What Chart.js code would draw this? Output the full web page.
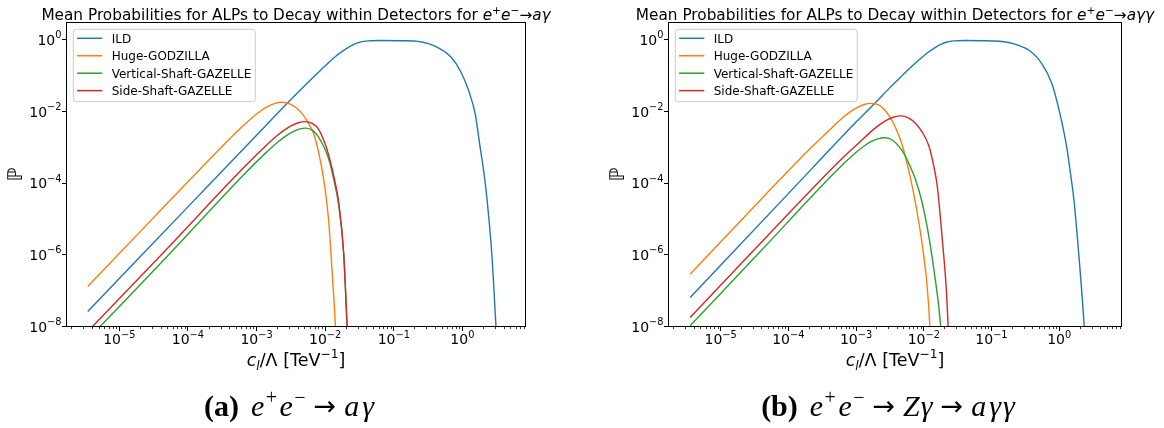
<!DOCTYPE html>
<html>
<head>
<meta charset="utf-8">
<script src="https://cdn.jsdelivr.net/npm/chart.js"></script>
<style>
  html, body { margin: 0; padding: 0; background: #ffffff; }
  #wrap { position: relative; width: 1164px; height: 428px; overflow: hidden; background: #ffffff; }
  canvas { position: absolute; top: 0; }
</style>
</head>
<body>
<div id="wrap">
  <canvas id="panelA" width="582" height="428" style="left:0px"></canvas>
  <canvas id="panelB" width="582" height="428" style="left:582px"></canvas>
</div>
<script>
// ---- data: x = c_l/Λ [TeV^-1], y = mean decay probability ----
// (a) e+e- -> a γ
const ildAX = [3.467e-6, 1.0e-4, 1.0e-3, 2.754e-3, 5.370e-3, 8.511e-3, 1.072e-2, 1.413e-2, 1.862e-2, 2.455e-2, 3.236e-2, 4.266e-2, 6.310e-2, 0.1259, 0.2455, 0.3846, 0.6761, 0.9441, 1.247, 1.549, 1.778, 2.042, 2.291, 2.692, 3.090, 3.311];
const ildAY = [2.630e-8, 2.188e-5, 2.188e-3, 1.660e-2, 6.026e-2, 0.1413, 0.2138, 0.3467, 0.5129, 0.7079, 0.8710, 0.9441, 0.9661, 0.9550, 0.8913, 0.6918, 0.3388, 0.1318, 3.631e-2, 8.128e-3, 1.318e-3, 2.239e-4, 3.467e-5, 1.0e-6, 1.0e-8, 1.0e-9];
const godzAX = [3.467e-6, 3.162e-5, 2.951e-4, 5.888e-4, 9.333e-4, 1.175e-3, 1.479e-3, 1.862e-3, 2.344e-3, 3.162e-3, 4.365e-3, 5.370e-3, 6.761e-3, 7.943e-3, 9.550e-3, 1.122e-2, 1.259e-2, 1.413e-2, 1.479e-2];
const godzAY = [1.318e-7, 1.096e-5, 9.333e-4, 3.467e-3, 7.674e-3, 1.072e-2, 1.413e-2, 1.698e-2, 1.820e-2, 1.585e-2, 1.0e-2, 5.754e-3, 2.512e-3, 7.943e-4, 1.230e-4, 9.550e-6, 3.802e-7, 1.0e-8, 1.0e-9];
const vertAX = [5.248e-6, 5.012e-5, 6.607e-4, 1.318e-3, 2.089e-3, 2.630e-3, 3.311e-3, 4.169e-3, 5.248e-3, 6.607e-3, 7.943e-3, 1.0e-2, 1.175e-2, 1.380e-2, 1.585e-2, 1.862e-2, 2.089e-2, 2.188e-2];
const vertAY = [1.0e-8, 9.120e-7, 1.778e-4, 6.607e-4, 1.462e-3, 2.042e-3, 2.692e-3, 3.236e-3, 3.467e-3, 2.951e-3, 1.995e-3, 8.710e-4, 3.631e-4, 9.550e-5, 2.239e-5, 1.122e-6, 1.0e-8, 1.0e-9];
const sideAX = [4.074e-6, 5.012e-5, 6.457e-4, 1.288e-3, 2.042e-3, 2.570e-3, 3.236e-3, 4.074e-3, 5.129e-3, 6.457e-3, 7.943e-3, 1.0e-2, 1.175e-2, 1.380e-2, 1.585e-2, 1.862e-2, 2.089e-2, 2.188e-2];
const sideAY = [1.0e-8, 1.514e-6, 2.692e-4, 1.0e-3, 2.213e-3, 3.090e-3, 4.074e-3, 4.898e-3, 5.248e-3, 4.677e-3, 3.311e-3, 1.259e-3, 4.467e-4, 1.175e-4, 2.754e-5, 1.122e-6, 1.0e-8, 1.0e-9];

// (b) e+e- -> Z γ -> a γ γ
const ildBX = [3.548e-6, 1.0e-4, 1.0e-3, 1.972e-3, 3.162e-3, 4.416e-3, 6.998e-3, 8.810e-3, 1.109e-2, 1.396e-2, 1.758e-2, 2.213e-2, 2.786e-2, 3.981e-2, 7.244e-2, 0.1778, 0.2512, 0.3548, 0.5495, 0.7762, 1.023, 1.288, 1.462, 1.648, 1.950, 2.344, 2.512];
const ildBY = [6.457e-8, 5.129e-5, 5.129e-3, 1.862e-2, 4.677e-2, 8.710e-2, 0.1995, 0.2951, 0.4266, 0.5754, 0.7413, 0.8810, 0.9441, 0.9661, 0.9550, 0.8511, 0.7079, 0.5248, 0.2239, 6.166e-2, 8.913e-3, 1.047e-3, 1.995e-4, 3.467e-5, 1.0e-6, 1.0e-8, 1.0e-9];
const godzBX = [3.548e-6, 3.162e-5, 2.089e-4, 4.169e-4, 6.607e-4, 8.318e-4, 1.047e-3, 1.318e-3, 1.660e-3, 2.188e-3, 3.090e-3, 3.890e-3, 4.898e-3, 5.754e-3, 6.761e-3, 9.120e-3, 1.122e-2, 1.230e-2, 1.288e-2];
const godzBY = [2.884e-7, 2.291e-5, 9.120e-4, 3.236e-3, 7.161e-3, 1.0e-2, 1.318e-2, 1.585e-2, 1.698e-2, 1.514e-2, 7.586e-3, 3.311e-3, 1.047e-3, 3.162e-4, 8.128e-5, 3.236e-6, 1.318e-7, 1.0e-8, 1.0e-9];
const vertBX = [3.548e-6, 3.981e-5, 3.311e-4, 6.607e-4, 1.047e-3, 1.318e-3, 1.660e-3, 2.089e-3, 2.630e-3, 3.467e-3, 4.898e-3, 6.026e-3, 7.586e-3, 9.120e-3, 1.072e-2, 1.230e-2, 1.413e-2, 1.778e-2, 1.905e-2];
const vertBY = [1.047e-8, 1.318e-6, 9.550e-5, 3.548e-4, 7.852e-4, 1.096e-3, 1.445e-3, 1.738e-3, 1.862e-3, 1.585e-3, 7.586e-4, 3.548e-4, 1.230e-4, 3.802e-5, 9.550e-6, 2.239e-6, 3.802e-7, 1.0e-8, 1.0e-9];
const sideBX = [3.548e-6, 5.012e-5, 5.754e-4, 1.148e-3, 1.820e-3, 2.291e-3, 2.884e-3, 3.631e-3, 4.571e-3, 6.026e-3, 7.586e-3, 9.550e-3, 1.202e-2, 1.380e-2, 1.585e-2, 1.862e-2, 2.138e-2, 2.291e-2, 2.399e-2];
const sideBY = [1.778e-8, 3.548e-6, 4.266e-4, 1.445e-3, 3.199e-3, 4.467e-3, 5.888e-3, 7.079e-3, 7.586e-3, 6.607e-3, 4.677e-3, 2.630e-3, 1.047e-3, 3.548e-4, 8.128e-5, 3.236e-6, 1.318e-7, 1.0e-8, 1.0e-9];

const seriesNames = ['ILD', 'Huge-GODZILLA', 'Vertical-Shaft-GAZELLE', 'Side-Shaft-GAZELLE'];
const seriesColors = ['#1f77b4', '#ff7f0e', '#2ca02c', '#d62728'];
const xMajorTicks = [1e-5, 1e-4, 1e-3, 1e-2, 1e-1, 1];
const yMajorTicks = [1e-8, 1e-6, 1e-4, 1e-2, 1];
const xRange = [1.70e-6, 8.32];
const yRange = [1e-8, 3.08];

// ---- text helpers ----
const SANS = '"DejaVu Sans", sans-serif';
const SERIF = '"Liberation Serif", "Times New Roman", serif';

function fontOf(r) {
  return (r.italic ? 'italic ' : '') + (r.bold ? 'bold ' : '') + r.size + 'px ' + (r.family || SANS);
}
function runsWidth(ctx, runs) {
  let w = 0;
  for (const r of runs) {
    ctx.font = fontOf(r);
    w += (r.pre || 0) + ctx.measureText(r.t).width + (r.gap || 0);
  }
  return w;
}
function drawRuns(ctx, runs, x, y, align) {
  const w = runsWidth(ctx, runs);
  let cx = align === 'center' ? x - w / 2 : (align === 'right' ? x - w : x);
  ctx.textAlign = 'left';
  ctx.textBaseline = 'alphabetic';
  for (const r of runs) {
    ctx.font = fontOf(r);
    cx += r.pre || 0;
    ctx.fillText(r.t, cx, y - (r.rise || 0));
    cx += ctx.measureText(r.t).width + (r.gap || 0);
  }
}
function powRuns(v) {
  const e = Math.round(Math.log10(v));
  return [
    { t: '10', size: 14 },
    { t: e < 0 ? '\u2212' + (-e) : String(e), size: 9.8, rise: 6.8 }
  ];
}
function titleRuns(tail) {
  return [
    { t: 'Mean Probabilities for ALPs to Decay within Detectors for ', size: 15.3 },
    { t: 'e', italic: true, size: 15.3 },
    { t: '+', size: 10.7, rise: 6 },
    { t: 'e', italic: true, size: 15.3 },
    { t: '\u2212', size: 10.7, rise: 6 },
    { t: '\u2192', size: 15.3 },
    { t: tail, italic: true, size: 15.3 }
  ];
}
const xLabelRuns = [
  { t: 'c', italic: true, size: 17.5 },
  { t: 'l', italic: true, size: 12.25, rise: -3.7 },
  { t: '/\u039b [TeV', size: 17.5 },
  { t: '\u22121', size: 12.25, rise: 7.7 },
  { t: ']', size: 17.5 }
];
// caption pieces
const ARROW = { t: '\u2192', size: 27, pre: 8, gap: 8, rise: 1 };
function capItalic(t, gap) { return { t: t, italic: true, size: 30, family: SERIF, gap: gap || 0 }; }
function mathHead(label) {
  return [
    { t: label, bold: true, size: 30, family: SERIF, gap: 12 },
    capItalic('e', 1.5),
    { t: '+', size: 20, family: SERIF, rise: 11.5, gap: 2.5 },
    capItalic('e', 1.5),
    { t: '\u2212', size: 20, family: SERIF, rise: 11.5 },
    ARROW
  ];
}
const captionA = mathHead('(a)').concat([capItalic('a', 3), capItalic('\u03b3')]);
const captionB = mathHead('(b)').concat([
  capItalic('Z', 1), capItalic('\u03b3'), ARROW,
  capItalic('a', 3), capItalic('\u03b3', 2), capItalic('\u03b3')
]);

// frame, minor ticks, tick labels, titles, legend and caption
function panelDecor(cfg) {
  return {
    id: 'panelDecor',
    afterDraw(chart) {
      const ctx = chart.ctx, a = chart.chartArea;
      const xs = chart.scales.x, ys = chart.scales.y;
      ctx.save();
      // axes frame
      ctx.strokeStyle = '#000';
      ctx.lineWidth = 1;
      ctx.strokeRect(a.left, a.top, a.right - a.left, a.bottom - a.top);
      // minor ticks on the log x axis
      ctx.lineWidth = 0.8;
      ctx.beginPath();
      for (let e = -7; e <= 1; e++) {
        for (let k = 2; k <= 9; k++) {
          const v = k * Math.pow(10, e);
          if (v < xs.min || v > xs.max) continue;
          const px = Math.round(xs.getPixelForValue(v)) + 0.5;
          ctx.moveTo(px, a.bottom);
          ctx.lineTo(px, a.bottom + 2.6);
        }
      }
      ctx.stroke();
      // tick labels
      ctx.fillStyle = '#000';
      xs.ticks.forEach(t => {
        drawRuns(ctx, powRuns(t.value), xs.getPixelForValue(t.value), a.bottom + 17.8, 'center');
      });
      ys.ticks.forEach(t => {
        drawRuns(ctx, powRuns(t.value), a.left - 5, ys.getPixelForValue(t.value) + 5.2, 'right');
      });
      // title and axis labels
      const cx = (a.left + a.right) / 2;
      drawRuns(ctx, cfg.title, cx, 19.5, 'center');
      drawRuns(ctx, xLabelRuns, cx, 366, 'center');
      ctx.save();
      ctx.translate(a.left - 51.5, (a.top + a.bottom) / 2);
      ctx.rotate(-Math.PI / 2);
      drawRuns(ctx, [{ t: '\u2119', size: 20 }], 0, 7.3, 'center');
      ctx.restore();
      // legend
      const lx = a.left + 6.8, ly = 29.3, lw = 182, lh = 72.4;
      ctx.beginPath();
      ctx.roundRect(lx, ly, lw, lh, 3);
      ctx.fillStyle = 'rgba(255,255,255,0.8)';
      ctx.fill();
      ctx.strokeStyle = '#cccccc';
      ctx.lineWidth = 1;
      ctx.stroke();
      chart.data.datasets.forEach((ds, i) => {
        const cy = ly + 9 + i * 17.45;
        ctx.beginPath();
        ctx.strokeStyle = ds.borderColor;
        ctx.lineWidth = 1.5;
        ctx.moveTo(lx + 3.8, cy);
        ctx.lineTo(lx + 29, cy);
        ctx.stroke();
        ctx.fillStyle = '#000';
        drawRuns(ctx, [{ t: ds.label, size: 12 }], lx + 38.4, cy + 4.3, 'left');
      });
      // sub-figure caption
      ctx.fillStyle = '#000';
      drawRuns(ctx, cfg.caption, cx - 7, 415.5, 'center');
      ctx.restore();
    }
  };
}

function pairs(xv, yv) { return xv.map((x, i) => ({ x: x, y: yv[i] })); }

function makePanel(canvasId, curves, cfg) {
  const datasets = seriesNames.map((name, i) => ({
    label: name,
    data: pairs(curves[i][0], curves[i][1]),
    borderColor: seriesColors[i],
    backgroundColor: seriesColors[i],
    borderWidth: 1.4,
    pointRadius: 0,
    fill: false,
    cubicInterpolationMode: 'monotone',
    clip: 0,
    order: 4 - i
  }));
  return new Chart(document.getElementById(canvasId), {
    type: 'line',
    data: { datasets: datasets },
    options: {
      responsive: false,
      animation: false,
      events: [],
      layout: { padding: { left: 0, top: 22.5, right: cfg.padRight, bottom: 0 } },
      plugins: { legend: { display: false }, tooltip: { enabled: false }, title: { display: false } },
      scales: {
        x: {
          type: 'logarithmic', position: 'bottom',
          min: xRange[0], max: xRange[1],
          afterBuildTicks: s => { s.ticks = xMajorTicks.map(v => ({ value: v })); },
          afterFit: s => { s.height = 101.5; },
          ticks: { display: false },
          grid: { display: true, drawOnChartArea: false, drawTicks: true, tickLength: 4.5, tickWidth: 1, tickColor: '#000', color: '#000' },
          border: { display: false }
        },
        y: {
          type: 'logarithmic', position: 'left',
          min: yRange[0], max: yRange[1],
          afterBuildTicks: s => { s.ticks = yMajorTicks.map(v => ({ value: v })); },
          afterFit: s => { s.width = cfg.yWidth; },
          ticks: { display: false },
          grid: { display: true, drawOnChartArea: false, drawTicks: true, tickLength: 4.5, tickWidth: 1, tickColor: '#000', color: '#000' },
          border: { display: false }
        }
      }
    },
    plugins: [panelDecor(cfg)]
  });
}

makePanel('panelA',
  [[ildAX, ildAY], [godzAX, godzAY], [vertAX, vertAY], [sideAX, sideAY]],
  { padRight: 56.5, yWidth: 66.5, title: titleRuns('a\u03b3'), caption: captionA });
makePanel('panelB',
  [[ildBX, ildBY], [godzBX, godzBY], [vertBX, vertBY], [sideBX, sideBY]],
  { padRight: 42.5, yWidth: 86.5, title: titleRuns('a\u03b3\u03b3'), caption: captionB });
</script>
</body>
</html>
